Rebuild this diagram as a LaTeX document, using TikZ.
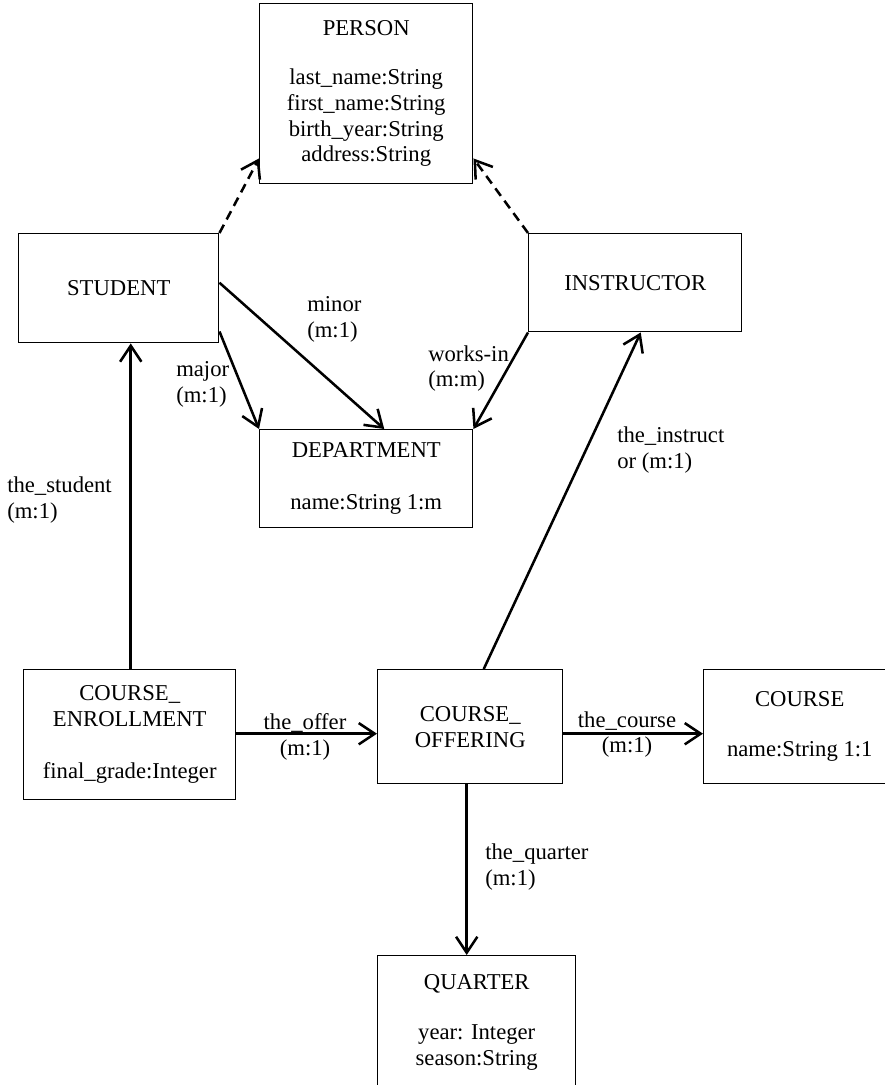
\documentclass[tikz,border=0pt]{standalone}
\usepackage{fontspec}
\setmainfont{Liberation Serif}
\usetikzlibrary{arrows.meta,calc}

\begin{document}
\begin{tikzpicture}[x=0.75pt,y=-0.75pt,
  every node/.style={font=\fontsize{17}{19.3}\selectfont},
  entity/.style={draw,line width=1.1pt,inner sep=0pt,align=center,anchor=north west},
  rel/.style={line width=1.9pt,-{Straight Barb[length=12pt,width=16pt,line width=1.9pt]}},
  isa/.style={rel,dash pattern=on 7pt off 4.5pt},
  lbl/.style={inner sep=0pt,align=left,anchor=west},
  clbl/.style={inner sep=0pt,align=center}]
  \clip (0,0) rectangle (885,1085);

  % entity boxes (top-left corner, width, height)
  \node[entity,minimum width=213*0.75pt,minimum height=180*0.75pt] (person) at (259,3)
    {PERSON\\[17.5pt]last\_name:String\\first\_name:String\\birth\_year:String\\address:String};
  \node[entity,minimum width=200*0.75pt,minimum height=109*0.75pt] (student) at (18,233) {STUDENT};
  \node[entity,minimum width=213*0.75pt,minimum height=98*0.75pt] (instructor) at (528,233) {INSTRUCTOR};
  \node[entity,minimum width=213*0.75pt,minimum height=98*0.75pt] (department) at (259,429)
    {DEPARTMENT\\[19.7pt]name:String 1:m};
  \node[entity,minimum width=212*0.75pt,minimum height=130*0.75pt] (enrollment) at (23,669)
    {COURSE\_\\ENROLLMENT\\[19.7pt]final\_grade:Integer};
  \node[entity,minimum width=185*0.75pt,minimum height=114*0.75pt] (offering) at (377,669)
    {COURSE\_\\OFFERING};
  \node[entity,minimum width=192*0.75pt,minimum height=114*0.75pt] (course) at (703,669)
    {COURSE\\[18pt]name:String 1:1};
  \node[entity,minimum width=198*0.75pt,minimum height=133*0.75pt] (quarter) at (377,955)
    {QUARTER\\[18pt]year: Integer\\season:String};

  % connector end points
  \coordinate (pl) at ($(person.south west)+(0,-26)$);
  \coordinate (pr) at ($(person.south east)+(0,-26)$);
  \coordinate (sminor) at ($(student.east)+(0,-5.5)$);
  \coordinate (smajor) at ($(student.south east)+(0,-12)$);
  \coordinate (dminor) at ($(department.north)+(18,0)$);
  \coordinate (oinstr) at ($(offering.north)+(13.5,0)$);
  \coordinate (iinstr) at ($(instructor.south)+(5.5,0)$);
  \coordinate (estud) at ($(enrollment.north)+(1,0)$);
  \coordinate (eoffer) at ($(enrollment.east)+(0,-1)$);
  \coordinate (oquart) at ($(offering.south)+(-3.5,0)$);

  % generalisation links to PERSON
  \draw[isa] (student.north east) -- (pl);
  \draw[isa] (instructor.north west) -- (pr);

  % relationships
  \draw[rel] (sminor) -- (dminor);
  \draw[rel] (smajor) -- (department.north west);
  \draw[rel] (instructor.south west) -- (department.north east);
  \draw[rel] (oinstr) -- (iinstr);
  \draw[rel] (estud) -- (estud |- student.south);
  \draw[rel] (eoffer) -- (eoffer -| offering.west);
  \draw[rel] (eoffer -| offering.east) -- (eoffer -| course.west);
  \draw[rel] (oquart) -- (oquart |- quarter.north);

  % relationship labels
  \node[lbl] (lminor) at (307,319.5) {minor\\(m:1)};
  \node[lbl] (lmajor) at (176,384.5) {major\\(m:1)};
  \node[lbl] (lworks) at (428,368.5) {works-in\\(m:m)};
  \node[lbl] (linstr) at (617,450) {the\_instruct\\or (m:1)};
  \node[lbl] (lstud) at (7,500) {the\_student\\(m:1)};
  \node[clbl] (loffer) at (305,737) {the\_offer\\(m:1)};
  \node[clbl] (lcourse) at (627,734.5) {the\_course\\(m:1)};
  \node[lbl] (lquarter) at (485,867) {the\_quarter\\(m:1)};
\end{tikzpicture}
\end{document}
